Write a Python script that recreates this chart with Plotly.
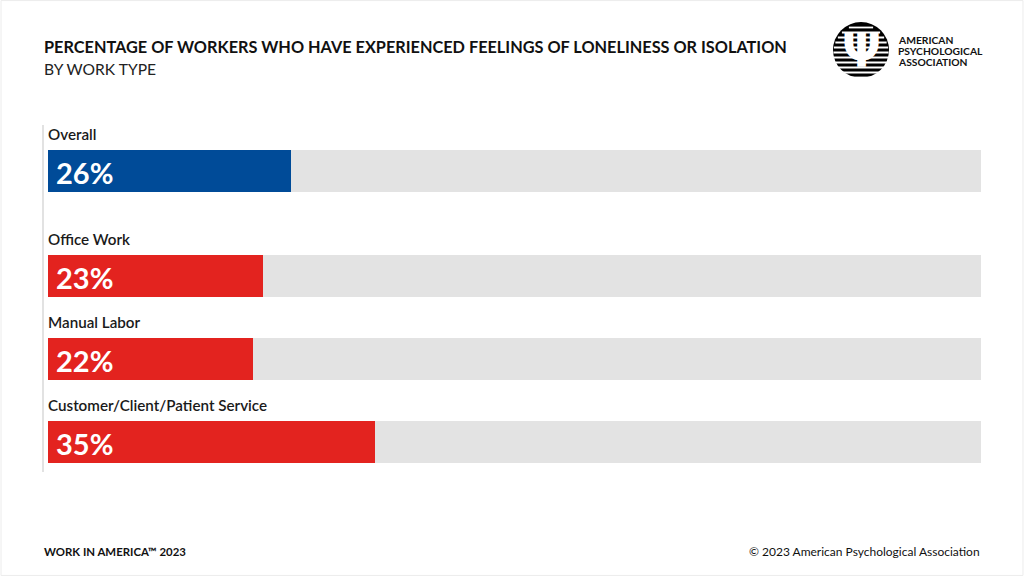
import plotly.graph_objects as go
import numpy as np

categories = ["Overall", "Office Work", "Manual Labor", "Customer/Client/Patient Service"]
values = [26, 23, 22, 35]
bar_colors = ["#004b98", "#e3231f", "#e3231f", "#e3231f"]
title = "PERCENTAGE OF WORKERS WHO HAVE EXPERIENCED FEELINGS OF LONELINESS OR ISOLATION"
subtitle = "BY WORK TYPE"
footer_left = "WORK IN AMERICA™ 2023"
footer_right = "© 2023 American Psychological Association"
logo_lines = ["AMERICAN", "PSYCHOLOGICAL", "ASSOCIATION"]

W, H = 1024, 576
FONT = "Lato"

# layout positions (pixel-like units on a reversed y axis)
first_center, step, group_gap = 171, 83, 22
centers = [first_center + i * step + (group_gap if i > 0 else 0) for i in range(len(categories))]
bar_h = 42

fig = go.Figure()
fig.add_trace(go.Bar(
    y=centers, x=[100] * len(categories), orientation="h",
    marker=dict(color="#e3e3e3", line=dict(width=0)), width=bar_h,
    hoverinfo="skip", showlegend=False))
fig.add_trace(go.Bar(
    y=centers, x=values, orientation="h",
    marker=dict(color=bar_colors, line=dict(width=0)), width=bar_h,
    text=[f"{v}%" for v in values], textposition="none",
    hovertemplate="%{x}%<extra></extra>", showlegend=False))

annotations = []
for c, cat, v in zip(centers, categories, values):
    annotations.append(dict(x=0, y=c - 37, xref="x", yref="y", text=cat, showarrow=False,
                            xanchor="left", yanchor="middle", xshift=-2,
                            font=dict(family=FONT, size=15.2, color="#1a1a1a", weight=600)))
    annotations.append(dict(x=0, y=c + 1, xref="x", yref="y", text=f"<b>{v}%</b>", showarrow=False,
                            xanchor="left", yanchor="middle", xshift=6,
                            font=dict(family=FONT, size=29, color="white")))

# titles
annotations.append(dict(x=42 / W, y=1 - 46 / H, xref="paper", yref="paper", text=f"<b>{title}</b>",
                        showarrow=False, xanchor="left", yanchor="middle",
                        font=dict(family=FONT, size=16.3, color="#111111")))
annotations.append(dict(x=42 / W, y=1 - 69 / H, xref="paper", yref="paper", text=subtitle,
                        showarrow=False, xanchor="left", yanchor="middle",
                        font=dict(family=FONT, size=15.6, color="#222222")))
# footer
annotations.append(dict(x=42 / W, y=1 - 551 / H, xref="paper", yref="paper", text=f"<b>{footer_left}</b>",
                        showarrow=False, xanchor="left", yanchor="middle",
                        font=dict(family=FONT, size=11.4, color="#111111")))
annotations.append(dict(x=982 / W, y=1 - 551 / H, xref="paper", yref="paper", text=footer_right,
                        showarrow=False, xanchor="right", yanchor="middle",
                        font=dict(family=FONT, size=12, color="#111111")))
# logo text
for i, t in enumerate(logo_lines):
    annotations.append(dict(x=896 / W, y=1 - (40 + i * 11) / H, xref="paper", yref="paper",
                            text=f"<b>{t}</b>", showarrow=False, xanchor="left", yanchor="middle",
                            font=dict(family=FONT, size=10.3, color="#111111", weight=900)))

shapes = []
# left axis line
shapes.append(dict(type="line", xref="paper", yref="y", x0=43 / W, x1=43 / W, y0=125, y1=472,
                   line=dict(color="#d8d8d8", width=1.5)))
# logo circle with stripes
cx, cy, r = 861, 50, 28
def px(x): return x / W
def py(y): return 1 - y / H
shapes.append(dict(type="circle", xref="paper", yref="paper", x0=px(cx - r), x1=px(cx + r),
                   y0=py(cy + r), y1=py(cy - r), fillcolor="black", line=dict(width=0)))
for k in range(-5, 6):
    yy = cy + k * 5
    dy = abs(yy - cy)
    if dy >= r - 1:
        continue
    half = np.sqrt(r * r - dy * dy) - 0.5
    shapes.append(dict(type="line", xref="paper", yref="paper", x0=px(cx - half), x1=px(cx + half),
                       y0=py(yy + 2.5), y1=py(yy + 2.5), line=dict(color="white", width=1.8)))
# psi glyph
annotations.append(dict(x=px(cx), y=py(cy + 1), xref="paper", yref="paper", text="<b>Ψ</b>",
                        showarrow=False, xanchor="center", yanchor="middle",
                        font=dict(family="DejaVu Sans", size=46, color="white")))
# faint page border
shapes.append(dict(type="rect", xref="paper", yref="paper", x0=0.001, x1=0.999, y0=0.001, y1=0.999,
                   line=dict(color="#ececec", width=1), fillcolor="rgba(0,0,0,0)"))

fig.update_layout(
    width=W, height=H, margin=dict(l=0, r=0, t=0, b=0),
    paper_bgcolor="white", plot_bgcolor="white",
    barmode="overlay", bargap=0,
    xaxis=dict(domain=[48 / W, 981 / W], range=[0, 100], visible=False, fixedrange=True),
    yaxis=dict(domain=[0, 1], range=[H, 0], visible=False, fixedrange=True),
    annotations=annotations, shapes=shapes,
)

fig.write_html("out.html")
